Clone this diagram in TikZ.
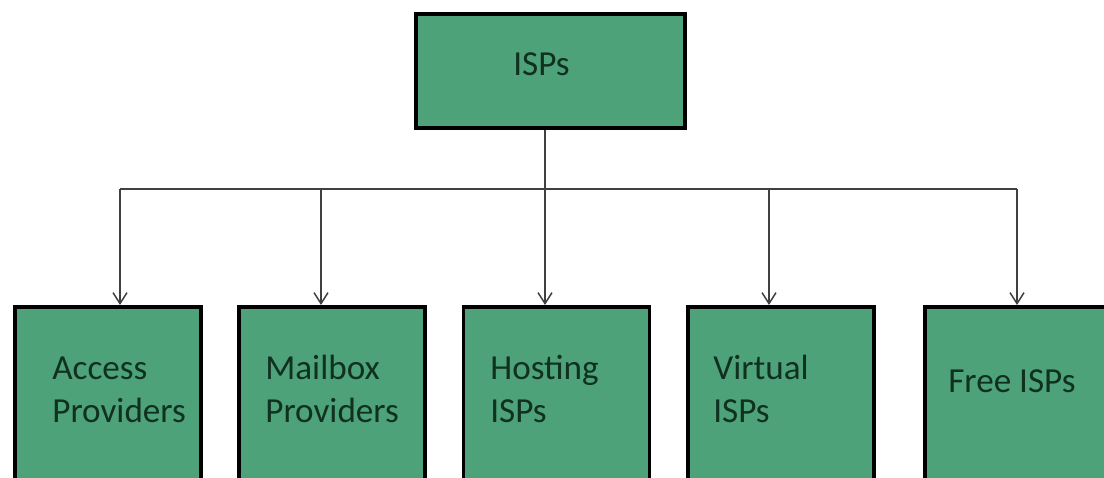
\documentclass[tikz,border=0pt]{standalone}
\usepackage{fontspec}
\setmainfont{Carlito}
\usetikzlibrary{arrows.meta}
\definecolor{ispgreen}{RGB}{77,162,122}
\definecolor{ispink}{RGB}{16,48,32}
\definecolor{wiregray}{RGB}{64,64,64}
\tikzset{
  ispbox/.style={draw=black, line width=2.2pt, fill=ispgreen, inner sep=0pt},
  isplabel/.style={anchor=base west, inner sep=0pt, align=left, text=ispink,
    font=\fontsize{20}{24}\selectfont},
  wire/.style={draw=wiregray, line width=0.85pt},
  branch/.style={wire, -{Straight Barb[length=2.2mm,width=2.8mm]}}
}
\begin{document}
\begin{tikzpicture}[x=0.02cm, y=-0.02cm]
  \useasboundingbox (0,0) rectangle (1104,477);
  \clip (0,0) rectangle (1104,477);
  % boxes
  \node[ispbox, minimum width=5.38cm, minimum height=2.28cm] (isp) at (550.5,71) {};
  \node[ispbox, anchor=north, minimum width=3.72cm, minimum height=4cm] (acc) at (108,305) {};
  \node[ispbox, anchor=north, minimum width=3.72cm, minimum height=4cm] (mail) at (332,305) {};
  \node[ispbox, anchor=north, minimum width=3.72cm, minimum height=4cm] (host) at (556.5,305) {};
  \node[ispbox, anchor=north, minimum width=3.72cm, minimum height=4cm] (virt) at (781,305) {};
  \node[ispbox, anchor=north, minimum width=3.9cm, minimum height=4cm] (free) at (1022.5,305) {};
  % texts (base = last line)
  \node[isplabel] (ispText) at (513,75) {ISPs};
  \node[isplabel] (accText) at (52,422) {Access\\Providers};
  \node[isplabel] (mailText) at (265,422) {Mailbox\\Providers};
  \node[isplabel] (hostText) at (490,422) {Hosting\\ISPs};
  \node[isplabel] (virtText) at (713,422) {Virtual\\ISPs};
  \node[isplabel] (freeText) at (948,392) {Free ISPs};
  % bus
  \coordinate (j0) at (545,189);
  \coordinate (j1) at (120,189);
  \coordinate (j2) at (321,189);
  \coordinate (j3) at (545,189);
  \coordinate (j4) at (769,189);
  \coordinate (j5) at (1017,189);
  \draw[wire] (isp.south -| j0) -- (j0);
  \draw[wire] (j1) -- (j5);
  \draw[branch] (j1) -- (j1 |- acc.north);
  \draw[branch] (j2) -- (j2 |- mail.north);
  \draw[branch] (j3) -- (j3 |- host.north);
  \draw[branch] (j4) -- (j4 |- virt.north);
  \draw[branch] (j5) -- (j5 |- free.north);
\end{tikzpicture}
\end{document}
